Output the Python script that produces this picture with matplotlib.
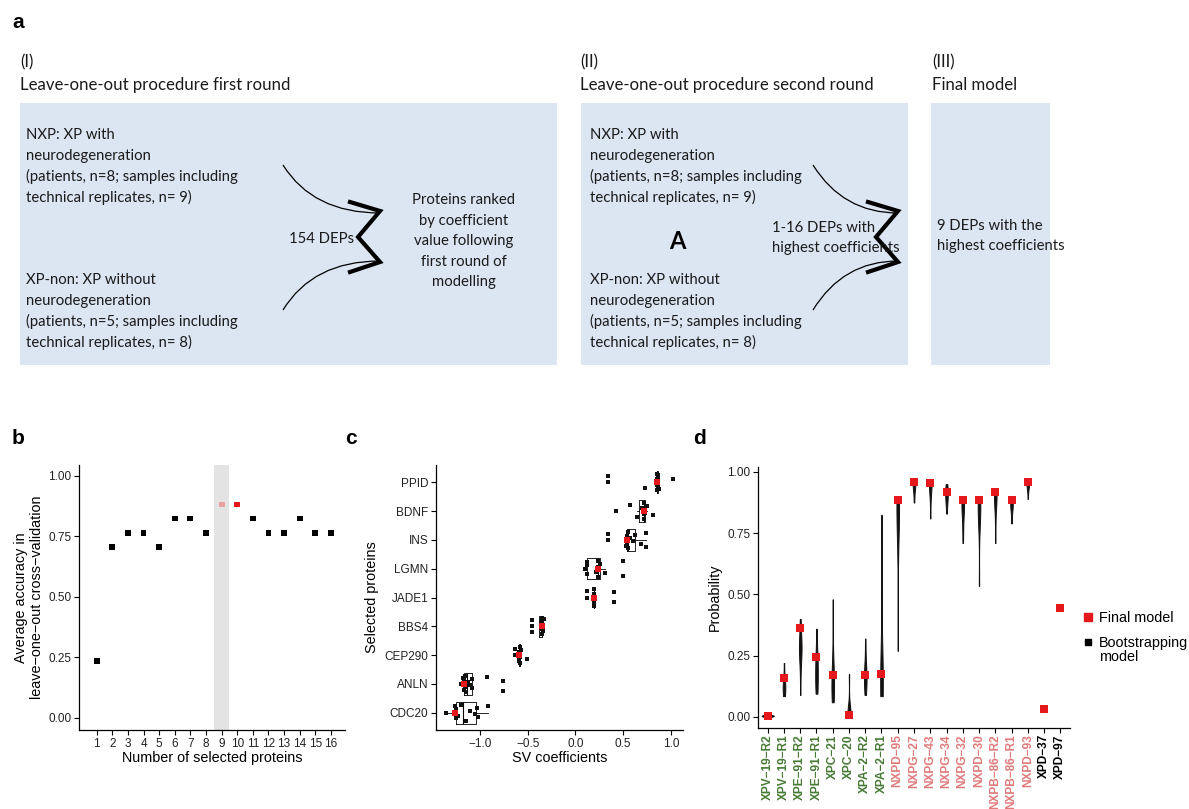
import matplotlib.pyplot as plt
from matplotlib.patches import Rectangle, PathPatch
from matplotlib.path import Path
from matplotlib.lines import Line2D

# ---- data ----
n_selected = list(range(1, 17))
accuracy = [0.235, 0.706, 0.765, 0.765, 0.706, 0.824, 0.824, 0.765,
            0.882, 0.882, 0.824, 0.765, 0.765, 0.824, 0.765, 0.765]

proteins = ["CDC20", "ANLN", "CEP290", "BBS4", "JADE1", "LGMN", "INS", "BDNF", "PPID"]
final_coef = [-1.26, -1.17, -0.59, -0.355, 0.19, 0.232, 0.543, 0.717, 0.857]
loo_coef = [
    [-1.356, -1.26, -1.25, -1.25, -1.23, -1.20, -1.147, -1.10, -1.05, -1.035, -1.017, -0.92],
    [-1.20, -1.18, -1.17, -1.17, -1.16, -1.16, -1.15, -1.12, -1.10, -1.08, -1.08, -0.93, -0.756, -0.756],
    [-0.634, -0.634, -0.59, -0.59, -0.59, -0.585, -0.58, -0.58, -0.58, -0.575, -0.51],
    [-0.459, -0.459, -0.459, -0.36, -0.355, -0.355, -0.355, -0.35, -0.35, -0.35, -0.34, -0.33],
    [0.117, 0.117, 0.19, 0.19, 0.19, 0.19, 0.19, 0.19, 0.19, 0.407, 0.407],
    [0.105, 0.117, 0.117, 0.125, 0.22, 0.232, 0.24, 0.24, 0.25, 0.26, 0.31, 0.50, 0.50],
    [0.34, 0.34, 0.53, 0.535, 0.54, 0.545, 0.55, 0.57, 0.60, 0.62, 0.685, 0.735, 0.735],
    [0.42, 0.57, 0.64, 0.70, 0.717, 0.72, 0.72, 0.725, 0.73, 0.745, 0.815],
    [0.344, 0.344, 0.728, 0.85, 0.852, 0.855, 0.857, 0.858, 0.86, 0.86, 0.862, 0.865, 0.87, 1.024],
]

samples = ["XPV−19−R2", "XPV−19−R1", "XPE−91−R2", "XPE−91−R1", "XPC−21", "XPC−20",
           "XPA−2−R2", "XPA−2−R1", "NXPD−95", "NXPG−27", "NXPG−43", "NXPG−34",
           "NXPG−32", "NXPD−30", "NXPB−86−R2", "NXPB−86−R1", "NXPD−93", "XPD−37", "XPD−97"]
sample_group = ["XP-non"] * 8 + ["NXP"] * 9 + ["test"] * 2
final_prob = [0.005, 0.158, 0.362, 0.243, 0.172, 0.009, 0.172, 0.175, 0.887, 0.957,
              0.953, 0.919, 0.887, 0.887, 0.919, 0.885, 0.957, 0.033, 0.444]
boot_prob = [
    [0.0, 0.002, 0.003, 0.004, 0.005, 0.005, 0.006, 0.008, 0.01, 0.016],
    [0.085, 0.09, 0.10, 0.11, 0.12, 0.13, 0.14, 0.15, 0.16, 0.22],
    [0.09, 0.20, 0.26, 0.27, 0.28, 0.28, 0.29, 0.30, 0.36, 0.40],
    [0.095, 0.11, 0.13, 0.15, 0.18, 0.20, 0.22, 0.24, 0.27, 0.36],
    [0.06, 0.09, 0.11, 0.12, 0.13, 0.14, 0.15, 0.17, 0.25, 0.48],
    [0.0, 0.002, 0.004, 0.006, 0.008, 0.01, 0.012, 0.02, 0.05, 0.175],
    [0.09, 0.11, 0.13, 0.15, 0.16, 0.17, 0.18, 0.20, 0.24, 0.32],
    [0.085, 0.10, 0.11, 0.12, 0.13, 0.14, 0.15, 0.17, 0.30, 0.825],
    [0.27, 0.70, 0.82, 0.85, 0.86, 0.87, 0.875, 0.88, 0.885, 0.89],
    [0.875, 0.90, 0.92, 0.93, 0.94, 0.945, 0.95, 0.955, 0.96, 0.96],
    [0.81, 0.88, 0.91, 0.93, 0.94, 0.95, 0.955, 0.96, 0.965, 0.97],
    [0.83, 0.86, 0.88, 0.89, 0.90, 0.91, 0.92, 0.93, 0.94, 0.95],
    [0.71, 0.76, 0.80, 0.83, 0.85, 0.86, 0.87, 0.875, 0.88, 0.89],
    [0.535, 0.76, 0.82, 0.84, 0.85, 0.86, 0.87, 0.875, 0.88, 0.89],
    [0.71, 0.80, 0.86, 0.88, 0.89, 0.90, 0.91, 0.915, 0.92, 0.925],
    [0.79, 0.82, 0.84, 0.85, 0.86, 0.865, 0.87, 0.875, 0.88, 0.89],
    [0.89, 0.92, 0.93, 0.94, 0.945, 0.95, 0.955, 0.96, 0.96, 0.965],
]

W, H = 1189, 809
RED = "#e5181e"
BOX = "#dce6f2"
SANS = ["Liberation Sans", "DejaVu Sans"]
CAL = ["Lato", "DejaVu Sans"]

fig = plt.figure(figsize=(W / 100, H / 100), dpi=100)

# overlay in pixel coordinates for panel a and the letters
ov = fig.add_axes([0, 0, 1, 1])
ov.set_xlim(0, W)
ov.set_ylim(H, 0)
ov.axis("off")

for x0, x1 in [(20, 557), (581, 908), (931, 1050)]:
    ov.add_patch(Rectangle((x0, 103), x1 - x0, 262, facecolor=BOX, edgecolor="none"))

head = dict(family=CAL, fontsize=12.1, color="#1a1a1a", va="center")
tkw = dict(family=CAL, fontsize=10.7, color="#1a1a1a", va="center")
ov.text(20, 62, "(I)", **head)
ov.text(20, 85, "Leave-one-out procedure first round", **head)
ov.text(580, 62, "(II)", **head)
ov.text(580, 85, "Leave-one-out procedure second round", **head)
ov.text(932, 62, "(III)", **head)
ov.text(932, 85, "Final model", **head)

group_lines = [["NXP: XP with", "neurodegeneration", "(patients, n=8; samples including",
                "technical replicates, n= 9)"],
               ["XP-non: XP without", "neurodegeneration", "(patients, n=5; samples including",
                "technical replicates, n= 8)"]]
for bx in (26, 590):
    for y0, lines in zip((135, 280), group_lines):
        for i, s in enumerate(lines):
            ov.text(bx, y0 + i * 20.8, s, **tkw)

ov.text(322, 239, "154 DEPs", ha="center", **tkw)
for i, s in enumerate(["Proteins ranked", "by coefficient", "value following",
                       "first round of", "modelling"]):
    ov.text(464, 200 + i * 20.6, s, ha="center", **tkw)
ov.text(677, 241, "A", family=CAL, fontsize=17, fontweight="bold", ha="center", va="center")
ov.text(772, 228, "1-16 DEPs with", **tkw)
ov.text(772, 248, "highest coefficients", **tkw)
ov.text(937, 226, "9 DEPs with the", **tkw)
ov.text(937, 246, "highest coefficients", **tkw)


def curve(p0, c, p1):
    path = Path([p0, c, p1], [Path.MOVETO, Path.CURVE3, Path.CURVE3])
    ov.add_patch(PathPatch(path, facecolor="none", edgecolor="black", lw=0.9))


for sx, ex in [(283, 380), (813, 898)]:
    curve((sx, 165), (sx + 30, 213), (ex, 213))
    curve((sx, 310), (sx + 30, 261), (ex, 261))
    ov.plot([ex - 30, ex, ex - 22, ex, ex - 30], [202, 211, 237, 262, 272],
            color="black", lw=3, solid_joinstyle="miter")

for lab, x, y in [("a", 12, 22), ("b", 12, 438), ("c", 345, 438), ("d", 693, 438)]:
    ov.text(x, y, lab, family=SANS, fontsize=15, fontweight="bold", va="center")


def px_axes(left, top, right, bottom):
    return fig.add_axes([left / W, 1 - bottom / H, (right - left) / W, (bottom - top) / H])


def classic(ax):
    for s in ("top", "right"):
        ax.spines[s].set_visible(False)
    for s in ("left", "bottom"):
        ax.spines[s].set_linewidth(0.9)
    ax.tick_params(direction="out", length=3.5, width=0.8, labelsize=8.5,
                   labelcolor="#222222", pad=2)
    ax.set_facecolor("none")


TITLE = 10.4

# ---- panel b ----
axb = px_axes(79, 465, 345, 730)
classic(axb)
axb.axvspan(8.5, 9.5, color="#e3e3e3", lw=0, zorder=0)
pt_cols = ["black"] * 16
pt_cols[8] = "#e8a0a0"
pt_cols[9] = RED
axb.scatter(n_selected, accuracy, marker="s", s=18, c=pt_cols, zorder=3, linewidths=0)
axb.set_xlim(-0.13, 16.9)
axb.set_ylim(-0.05, 1.045)
axb.set_xticks(n_selected)
axb.set_yticks([0, 0.25, 0.5, 0.75, 1.0])
axb.set_yticklabels(["0.00", "0.25", "0.50", "0.75", "1.00"], family=SANS)
axb.set_xticklabels([str(n) for n in n_selected], family=SANS)
axb.set_xlabel("Number of selected proteins", family=SANS, fontsize=TITLE, labelpad=1)
axb.set_ylabel("Average accuracy in\nleave−one−out cross−validation", family=SANS,
               fontsize=TITLE, labelpad=3)

# ---- panel c ----
axc = px_axes(436, 465, 683, 730)
classic(axc)
ypos = list(range(1, len(proteins) + 1))
axc.boxplot(loo_coef, positions=ypos, orientation="horizontal", widths=0.75,
            showfliers=False, showcaps=False,
            boxprops=dict(color="black", lw=0.6),
            whiskerprops=dict(color="black", lw=0.6),
            medianprops=dict(color="black", lw=0.8))
jit = [0.0, 0.22, -0.2, 0.12, -0.1, 0.28, -0.28, 0.05, -0.05, 0.18, -0.15, 0.25, -0.25, 0.1]
for y, vals in zip(ypos, loo_coef):
    axc.scatter(vals, [y + jit[i % len(jit)] for i in range(len(vals))],
                marker="s", s=12, color="#111111", linewidths=0, zorder=3)
axc.scatter(final_coef, ypos, marker="s", s=18, color=RED, linewidths=0, zorder=4)
axc.set_xlim(-1.46, 1.126)
axc.set_ylim(0.4, 9.6)
axc.set_xticks([-1.0, -0.5, 0.0, 0.5, 1.0])
axc.set_xticklabels(["−1.0", "−0.5", "0.0", "0.5", "1.0"], family=SANS)
axc.set_yticks(ypos)
axc.set_yticklabels(proteins, family=SANS)
axc.set_xlabel("SV coefficients", family=SANS, fontsize=TITLE, labelpad=1)
axc.set_ylabel("Selected proteins", family=SANS, fontsize=TITLE, labelpad=4)

# ---- panel d ----
axd = px_axes(758, 467, 1070, 728)
classic(axd)
xpos = list(range(1, len(samples) + 1))
vwidths = [0.75, 0.16, 0.16, 0.16, 0.16, 0.2, 0.16, 0.16, 0.16,
           0.16, 0.16, 0.16, 0.16, 0.16, 0.16, 0.16, 0.16]
for i, vals in enumerate(boot_prob):
    parts = axd.violinplot([vals], positions=[xpos[i]], widths=vwidths[i],
                           showextrema=False)
    for b in parts["bodies"]:
        b.set_facecolor("#111111")
        b.set_edgecolor("#111111")
        b.set_linewidth(0.7)
        b.set_alpha(1)
axd.scatter(xpos, final_prob, marker="s", s=28, color=RED, linewidths=0, zorder=4)
axd.set_xlim(0.4, 19.6)
axd.set_ylim(-0.045, 1.02)
axd.set_yticks([0, 0.25, 0.5, 0.75, 1.0])
axd.set_yticklabels(["0.00", "0.25", "0.50", "0.75", "1.00"], family=SANS)
axd.set_xticks(xpos)
axd.set_xticklabels(samples, rotation=90, family=SANS, fontweight="bold", fontsize=8.6)
axd.tick_params(axis="x", pad=1)
group_col = {"XP-non": "#467a35", "NXP": "#e07a7a", "test": "black"}
for lab, g in zip(axd.get_xticklabels(), sample_group):
    lab.set_color(group_col[g])
axd.set_ylabel("Probability", family=SANS, fontsize=TITLE, labelpad=4)

handles = [Line2D([], [], marker="s", ls="none", color=RED, ms=6),
           Line2D([], [], marker="s", ls="none", color="black", ms=5)]
fig.legend(handles, ["Final model", "Bootstrapping"], loc="upper left",
           bbox_to_anchor=(1070 / W, 1 - 598 / H), frameon=False, handlelength=0.7,
           handletextpad=0.4, labelspacing=0.75, prop=dict(family=SANS, size=TITLE))
ov.text(1099, 657, "model", family=SANS, fontsize=TITLE, va="center")

fig.savefig("out.png", dpi=100)
